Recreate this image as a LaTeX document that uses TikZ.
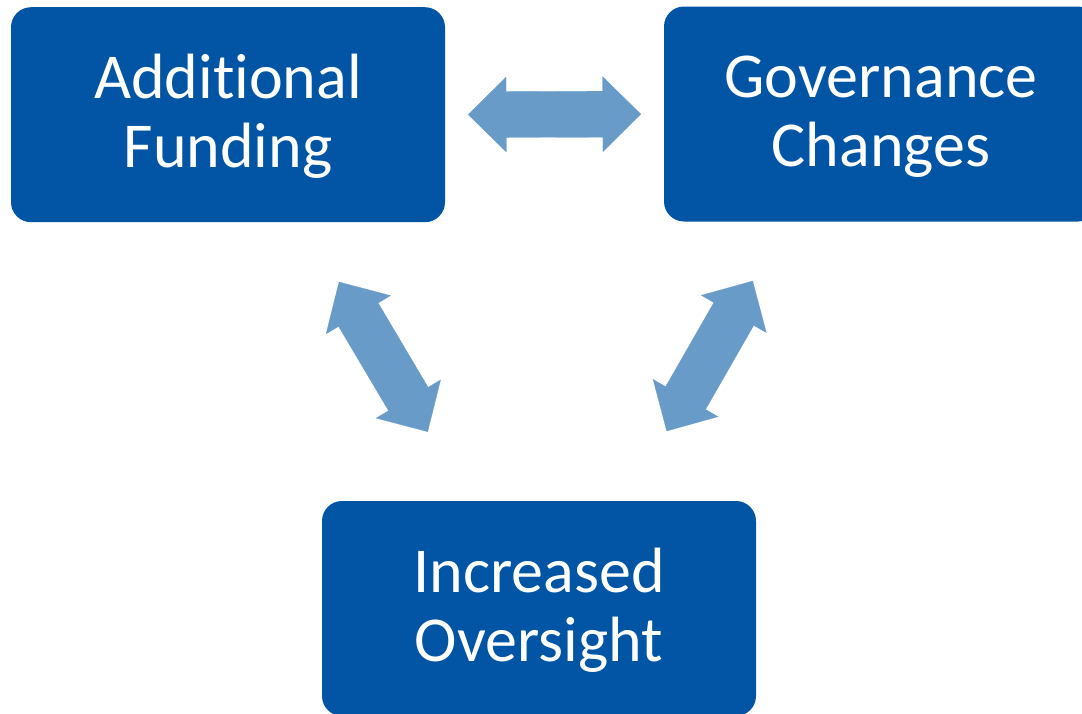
\documentclass[tikz,border=0pt]{standalone}
\usepackage{fontspec}
\setmainfont[Ligatures=NoCommon]{Carlito}
\usepackage{tikz}
\usetikzlibrary{calc, arrows.meta, positioning}
\definecolor{boxblue}{RGB}{2,85,165}
\definecolor{arrowblue}{RGB}{104,155,200}
\tikzset{>=latex}
\newcommand{\twolines}[2]{\rule{0pt}{52pt}#1\\#2\rule[-15.4pt]{0pt}{0pt}}
\tikzset{
block/.style={fill=boxblue, text=white, rounded corners=20pt, minimum width=434pt, minimum height=215pt, inner sep=0pt, align=center, font=\fontsize{64}{69.3}\selectfont},
fat/.style={color=arrowblue, line width=0.2pt, every edge/.style={draw=arrowblue, fill=arrowblue}, to path={
 -- ($(\tikztostart)!38pt!(\tikztotarget)!37.5pt!90:(\tikztotarget)$)
 -- ($(\tikztostart)!38pt!(\tikztotarget)!23pt!90:(\tikztotarget)$)
 -- ($(\tikztotarget)!38pt!(\tikztostart)!23pt!-90:(\tikztostart)$)
 -- ($(\tikztotarget)!38pt!(\tikztostart)!37.5pt!-90:(\tikztostart)$)
 -- (\tikztotarget)
 -- ($(\tikztotarget)!38pt!(\tikztostart)!37.5pt!90:(\tikztostart)$)
 -- ($(\tikztotarget)!38pt!(\tikztostart)!23pt!90:(\tikztostart)$)
 -- ($(\tikztostart)!38pt!(\tikztotarget)!23pt!-90:(\tikztotarget)$)
 -- ($(\tikztostart)!38pt!(\tikztotarget)!37.5pt!-90:(\tikztotarget)$)
 -- cycle}}
}

\begin{document}
\begin{tikzpicture}[x=1pt, y=-1pt]
\useasboundingbox (0,0) rectangle (1082,713);
\node[block] (fund) at (228,114.7) {\twolines{Additional}{Funding}};
\node[block] (gov) at (881,114) {\twolines{Governance}{Changes}};
\node[block] (inc) at (539,608.5) {\twolines{Increased}{Oversight}};
\coordinate (fg-a) at ($(fund.east)!23pt!(gov.west)$);
\coordinate (fg-b) at ($(gov.west)!23pt!(fund.east)$);
\coordinate (fi-a) at (339,282);
\coordinate (fi-b) at (427.7,431.7);
\coordinate (gi-a) at (752.7,281);
\coordinate (gi-b) at (666.7,431);
\path[fat]
(fg-a) edge (fg-b)
(fi-a) edge (fi-b)
(gi-a) edge (gi-b)
;
\end{tikzpicture}
\end{document}
